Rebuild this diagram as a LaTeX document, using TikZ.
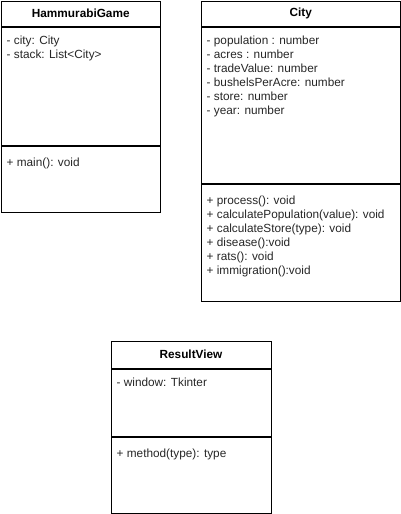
\documentclass[tikz,border=0pt]{standalone}
\usepackage{fontspec}
\setmainfont{Liberation Sans}
\usepackage{tikz}
\usetikzlibrary{positioning}

\tikzset{
  part/.style={draw=black, line width=1pt, inner sep=0pt, anchor=north west},
  title/.style={part, font=\fontsize{11.8}{14}\selectfont\bfseries},
  members/.style={inner sep=0pt, anchor=north west, align=left,
    font=\fontsize{11.8}{14}\selectfont, text=black!85}
}

\begin{document}
\begin{tikzpicture}[x=1pt,y=-1pt]
\useasboundingbox (0,0) rectangle (401,514);
% HammurabiGame
\node[title, minimum width=159.5, minimum height=25.5] (gameHead) at (0.5,0.5) {HammurabiGame};
\node[part, minimum width=159.5, minimum height=118] (gameAttr) at (gameHead.south west) {};
\node[part, minimum width=159.5, minimum height=66] (gameOps) at (gameAttr.south west) {};
\node[members] (gameAttrText) at ([xshift=6pt,yshift=-9pt]gameAttr.north west) {- city: City\\- stack: List<City>};
\node[members] (gameOpsText) at ([xshift=6pt,yshift=-12pt]gameOps.north west) {+ main(): void};
% City
\node[title, minimum width=199.5, minimum height=25] (cityHead) at (200.5,0.5) {City};
\node[part, minimum width=199.5, minimum height=156.5] (cityAttr) at (cityHead.south west) {};
\node[part, minimum width=199.5, minimum height=117] (cityOps) at (cityAttr.south west) {};
\node[members] (cityAttrText) at ([xshift=6pt,yshift=-9pt]cityAttr.north west) {- population : number\\- acres : number\\- tradeValue: number\\- bushelsPerAcre: number\\- store: number\\- year: number};
\node[members] (cityOpsText) at ([xshift=6pt,yshift=-12pt]cityOps.north west) {+ process(): void\\+ calculatePopulation(value): void\\+ calculateStore(type): void\\+ disease():void\\+ rats(): void\\+ immigration():void};
% ResultView
\node[title, minimum width=160, minimum height=27] (viewHead) at (110.5,340.5) {ResultView};
\node[part, minimum width=160, minimum height=67] (viewAttr) at (viewHead.south west) {};
\node[part, minimum width=160, minimum height=76] (viewOps) at (viewAttr.south west) {};
\node[members] (viewAttrText) at ([xshift=6pt,yshift=-9pt]viewAttr.north west) {- window: Tkinter};
\node[members] (viewOpsText) at ([xshift=6pt,yshift=-12pt]viewOps.north west) {+ method(type): type};
\end{tikzpicture}
\end{document}
